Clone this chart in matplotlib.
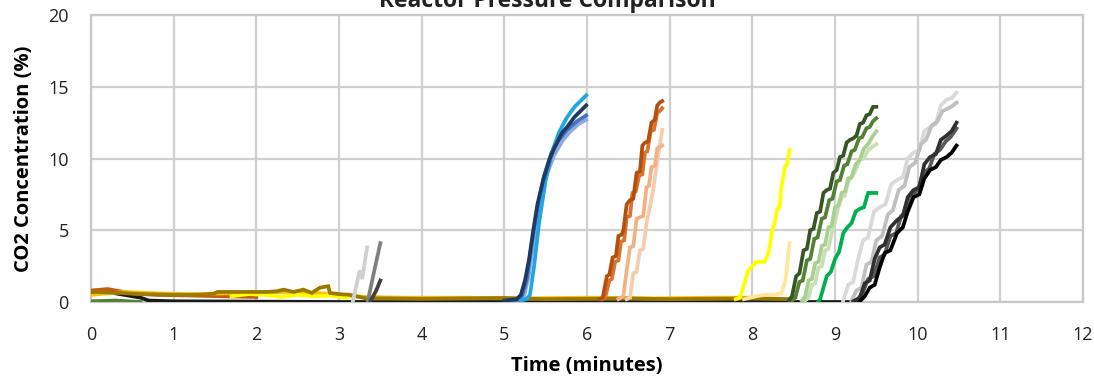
import matplotlib
matplotlib.use("Agg")
import matplotlib.pyplot as plt

plt.rcParams['font.family'] = ['Open Sans', 'DejaVu Sans']

# ---------------- data ----------------
title = "Reactor Pressure Comparison"
x_label = "Time (minutes)"
y_label = "CO2 Concentration (%)"
x_ticks = [0, 1, 2, 3, 4, 5, 6, 7, 8, 9, 10, 11, 12]
y_ticks = [0, 5, 10, 15, 20]

# baseline / early series
olive_t = [0.0, 0.3, 0.6, 1.0, 1.3, 1.48, 1.53, 1.8, 2.13, 2.25, 2.33, 2.45, 2.57, 2.67, 2.77, 2.87, 2.89, 3.0, 3.13, 3.33, 3.6, 4.0, 4.5, 5.0, 5.5, 6.0, 6.5, 7.0, 7.5, 8.0, 8.5]
olive_v = [0.7, 0.65, 0.55, 0.5, 0.5, 0.57, 0.7, 0.7, 0.7, 0.75, 0.86, 0.7, 0.86, 0.63, 1.0, 1.1, 0.63, 0.55, 0.5, 0.25, 0.25, 0.22, 0.25, 0.28, 0.2, 0.22, 0.25, 0.2, 0.22, 0.25, 0.2]
gold_t = [0.0, 0.4, 0.8, 1.2, 1.6, 2.0, 2.4, 2.8, 3.0, 3.3, 3.8, 4.5, 5.2, 6.0, 6.8, 7.5, 8.0]
gold_v = [0.5, 0.7, 0.6, 0.55, 0.6, 0.65, 0.7, 0.6, 0.5, 0.35, 0.3, 0.3, 0.25, 0.3, 0.25, 0.3, 0.3]
yellow_base_t = [1.7, 1.9, 2.1, 2.3, 2.5, 2.7, 2.9, 3.1]
yellow_base_v = [0.4, 0.55, 0.5, 0.35, 0.5, 0.4, 0.45, 0.3]
orange_base_t = [0.0, 0.2, 0.35, 0.5, 0.8, 1.2, 1.6, 2.0]
orange_base_v = [0.8, 0.9, 0.75, 0.6, 0.5, 0.45, 0.4, 0.35]
black_base_t = [0.0, 0.2, 0.4, 0.6, 0.7, 1.0, 3.0, 6.0, 9.0, 9.3]
black_base_v = [0.6, 0.7, 0.5, 0.3, 0.1, 0.05, 0.0, 0.0, 0.0, 0.0]
green_base_t = [0.0, 0.3, 0.6]
green_base_v = [0.05, 0.1, 0.0]

# short gray spikes around 3.2-3.5 min
spike1_t = [3.17, 3.25, 3.28, 3.34]
spike1_v = [0.1, 2.2, 1.6, 3.8]
spike2_t = [3.35, 3.42, 3.5]
spike2_v = [0.1, 2.0, 4.1]
spike3_t = [3.38, 3.45, 3.5]
spike3_v = [0.05, 0.8, 1.5]

# blue group
navy_t = [5.0, 5.15, 5.2, 5.25, 5.3, 5.35, 5.4, 5.47, 5.55, 5.61, 5.7, 5.76, 5.85, 5.92, 5.99]
navy_v = [0.1, 0.2, 0.5, 1.5, 3.0, 5.0, 6.8, 8.5, 10.0, 10.8, 11.8, 12.2, 12.9, 13.3, 13.7]
lblue_t = [5.2, 5.27, 5.31, 5.36, 5.42, 5.5, 5.58, 5.66, 5.75, 5.85, 5.99]
lblue_v = [0.1, 0.2, 0.5, 2.5, 5.5, 8.5, 10.5, 11.8, 12.8, 13.6, 14.4]
mblue_t = [5.1, 5.2, 5.27, 5.33, 5.4, 5.48, 5.57, 5.66, 5.76, 5.88, 5.99]
mblue_v = [0.1, 0.2, 1.5, 4.0, 6.5, 8.8, 10.4, 11.3, 12.0, 12.6, 13.0]
pblue_t = [5.15, 5.24, 5.3, 5.36, 5.43, 5.51, 5.6, 5.7, 5.8, 5.9, 5.99]
pblue_v = [0.1, 0.4, 2.0, 4.5, 6.8, 8.8, 10.2, 11.2, 11.9, 12.4, 12.7]

# orange group (stepped)
or1_t = [6.15, 6.19, 6.24, 6.27, 6.31, 6.35, 6.38, 6.42, 6.44, 6.48, 6.52, 6.56, 6.6, 6.64, 6.67, 6.7, 6.74, 6.78, 6.82, 6.85, 6.88, 6.91]
or1_v = [0.2, 0.3, 1.8, 1.9, 3.1, 3.2, 4.6, 4.7, 5.0, 6.8, 7.1, 7.2, 9.0, 9.1, 10.9, 11.1, 11.2, 12.5, 12.7, 13.7, 13.9, 14.0]
or2_t = [6.18, 6.22, 6.27, 6.3, 6.34, 6.38, 6.41, 6.45, 6.48, 6.52, 6.55, 6.59, 6.63, 6.67, 6.7, 6.73, 6.77, 6.81, 6.85, 6.88, 6.91]
or2_v = [0.2, 0.3, 1.5, 1.6, 2.8, 2.9, 4.2, 4.3, 5.9, 6.0, 7.6, 7.7, 8.8, 8.9, 10.4, 10.5, 11.9, 12.0, 13.2, 13.3, 13.5]
or3_t = [6.38, 6.44, 6.48, 6.52, 6.56, 6.6, 6.64, 6.68, 6.72, 6.75, 6.78, 6.82, 6.85, 6.88, 6.91]
or3_v = [0.2, 0.4, 2.2, 3.8, 3.9, 5.8, 5.9, 6.0, 8.0, 8.1, 9.4, 9.5, 10.7, 10.8, 10.9]
or4_t = [6.48, 6.52, 6.56, 6.6, 6.64, 6.68, 6.72, 6.76, 6.8, 6.84, 6.87, 6.91]
or4_v = [0.2, 0.3, 2.0, 2.1, 3.6, 3.7, 5.5, 6.6, 7.8, 9.4, 10.5, 12.0]

# yellow / tan
yel_t = [7.8, 7.85, 7.9, 7.95, 8.0, 8.05, 8.15, 8.2, 8.24, 8.27, 8.3, 8.33, 8.35, 8.4, 8.42, 8.45]
yel_v = [0.2, 0.3, 1.2, 2.2, 2.5, 2.8, 2.8, 3.5, 5.0, 5.5, 6.5, 6.6, 8.0, 9.5, 9.6, 10.6]
tan_t = [7.9, 8.05, 8.15, 8.25, 8.35, 8.4, 8.42, 8.45]
tan_v = [0.2, 0.4, 0.5, 0.5, 0.6, 1.5, 2.5, 4.1]

# green group
dg_t = [8.44, 8.48, 8.53, 8.57, 8.62, 8.66, 8.7, 8.74, 8.78, 8.82, 8.86, 8.9, 8.94, 8.98, 9.02, 9.06, 9.1, 9.14, 9.18, 9.22, 9.26, 9.3, 9.34, 9.38, 9.42, 9.46, 9.5]
dg_v = [0.1, 0.4, 1.8, 2.0, 3.6, 3.7, 5.0, 5.1, 6.2, 6.3, 7.6, 7.8, 7.9, 9.0, 9.2, 10.1, 10.2, 11.1, 11.3, 11.4, 11.6, 12.4, 12.5, 13.0, 13.1, 13.6, 13.6]
mg_t = [8.48, 8.52, 8.57, 8.61, 8.66, 8.7, 8.75, 8.79, 8.84, 8.88, 8.93, 8.97, 9.02, 9.06, 9.11, 9.15, 9.2, 9.24, 9.29, 9.33, 9.38, 9.42, 9.46, 9.5]
mg_v = [0.1, 0.3, 1.4, 1.5, 2.9, 3.0, 4.4, 4.5, 5.8, 5.9, 7.1, 7.2, 8.4, 8.5, 9.5, 9.6, 10.5, 10.6, 11.4, 11.5, 12.1, 12.2, 12.6, 12.8]
lg_t = [8.6, 8.64, 8.68, 8.72, 8.76, 8.8, 8.84, 8.88, 8.92, 8.96, 9.0, 9.04, 9.08, 9.12, 9.16, 9.2, 9.25, 9.3, 9.35, 9.4, 9.45, 9.5]
lg_v = [0.1, 0.4, 1.5, 1.6, 2.7, 2.8, 3.9, 4.0, 5.2, 5.3, 6.6, 6.7, 7.6, 7.7, 8.6, 8.7, 9.6, 9.9, 10.7, 11.0, 11.5, 11.9]
llg_t = [8.64, 8.68, 8.72, 8.76, 8.8, 8.84, 8.88, 8.92, 8.96, 9.0, 9.04, 9.08, 9.12, 9.16, 9.2, 9.25, 9.3, 9.35, 9.4, 9.45, 9.5]
llg_v = [0.1, 0.3, 1.2, 1.3, 2.4, 2.5, 3.6, 3.7, 4.8, 5.6, 6.6, 7.3, 7.4, 8.4, 8.7, 9.2, 9.9, 10.0, 10.6, 10.8, 11.0]
bg_t = [8.8, 8.82, 8.86, 8.9, 8.95, 9.0, 9.05, 9.1, 9.15, 9.2, 9.25, 9.3, 9.35, 9.4, 9.5]
bg_v = [0.05, 0.2, 1.0, 1.8, 2.1, 3.0, 3.5, 4.8, 5.2, 5.5, 6.3, 6.5, 6.6, 7.6, 7.6]

# gray / black group
gr1_t = [9.1, 9.16, 9.22, 9.28, 9.34, 9.4, 9.47, 9.54, 9.61, 9.68, 9.75, 9.82, 9.88, 9.95, 10.02, 10.08, 10.15, 10.22, 10.28, 10.35, 10.41, 10.47]
gr1_v = [0.1, 1.2, 1.4, 3.0, 4.3, 4.5, 6.3, 6.6, 6.8, 8.2, 8.5, 8.7, 10.0, 10.4, 10.6, 11.9, 12.2, 12.4, 13.7, 14.1, 14.2, 14.6]
gr2_t = [9.2, 9.26, 9.32, 9.38, 9.44, 9.5, 9.57, 9.64, 9.7, 9.77, 9.84, 9.9, 9.97, 10.04, 10.1, 10.17, 10.24, 10.3, 10.37, 10.43, 10.47]
gr2_v = [0.1, 0.8, 1.0, 2.6, 2.8, 4.3, 4.6, 6.1, 6.4, 7.8, 8.1, 9.4, 9.7, 11.0, 11.3, 12.3, 12.6, 13.3, 13.5, 13.7, 13.9]
dk1_t = [9.22, 9.3, 9.36, 9.42, 9.48, 9.54, 9.6, 9.67, 9.75, 9.82, 9.88, 9.95, 10.02, 10.08, 10.15, 10.22, 10.28, 10.35, 10.41, 10.47]
dk1_v = [0.05, 0.3, 1.3, 1.5, 3.0, 3.8, 4.0, 5.2, 5.7, 6.0, 7.3, 7.8, 8.0, 9.6, 10.1, 10.3, 11.3, 11.6, 11.9, 12.5]
dk2_t = [9.3, 9.36, 9.42, 9.48, 9.54, 9.6, 9.67, 9.75, 9.82, 9.88, 9.95, 10.02, 10.08, 10.15, 10.22, 10.28, 10.35, 10.41, 10.47]
dk2_v = [0.05, 0.4, 1.0, 1.2, 2.4, 3.4, 3.6, 4.8, 5.2, 6.3, 7.3, 7.5, 8.6, 9.2, 9.4, 9.9, 10.1, 10.4, 10.9]
dk3_t = [9.26, 9.33, 9.4, 9.47, 9.54, 9.6, 9.67, 9.74, 9.8, 9.87, 9.94, 10.0, 10.07, 10.14, 10.2, 10.27, 10.34, 10.4, 10.47]
dk3_v = [0.05, 0.6, 1.6, 1.8, 3.1, 3.3, 4.6, 4.8, 6.0, 6.3, 7.5, 7.8, 9.0, 9.3, 10.3, 10.6, 11.2, 11.5, 12.1]

series = [
    (black_base_t, black_base_v, "#1a1a1a"),
    (green_base_t, green_base_v, "#548235"),
    (orange_base_t, orange_base_v, "#c55a11"),
    (gold_t, gold_v, "#ffc000"),
    (yellow_base_t, yellow_base_v, "#ffff00"),
    (olive_t, olive_v, "#9c7a00"),
    (spike1_t, spike1_v, "#d0d0d0"),
    (spike2_t, spike2_v, "#7f7f7f"),
    (spike3_t, spike3_v, "#404040"),
    (pblue_t, pblue_v, "#8faadc"),
    (mblue_t, mblue_v, "#4472c4"),
    (lblue_t, lblue_v, "#1ea7e1"),
    (navy_t, navy_v, "#1f3864"),
    (or4_t, or4_v, "#f8cbad"),
    (or3_t, or3_v, "#f4b183"),
    (or2_t, or2_v, "#d9732f"),
    (or1_t, or1_v, "#b4500f"),
    (tan_t, tan_v, "#ffe699"),
    (yel_t, yel_v, "#ffff00"),
    (llg_t, llg_v, "#c5e0b4"),
    (lg_t, lg_v, "#a9d08e"),
    (mg_t, mg_v, "#548235"),
    (dg_t, dg_v, "#375623"),
    (bg_t, bg_v, "#00b050"),
    (gr1_t, gr1_v, "#d9d9d9"),
    (gr2_t, gr2_v, "#bfbfbf"),
    (dk3_t, dk3_v, "#595959"),
    (dk1_t, dk1_v, "#303030"),
    (dk2_t, dk2_v, "#000000"),
]

# ---------------- plot ----------------
fig = plt.figure(figsize=(10.94, 3.83), dpi=100)
ax = fig.add_axes([91 / 1094, 1 - 302 / 383, (1083 - 91) / 1094, (302 - 15) / 383])

for t, v, c in series:
    ax.plot(t, v, color=c, lw=2.7, solid_joinstyle='miter', zorder=3)

ax.set_xlim(0, 12)
ax.set_ylim(0, 20)
ax.set_xticks(x_ticks)
ax.set_yticks(y_ticks)
ax.grid(True, color="#d0d0d0", lw=1.6, zorder=0)
ax.set_axisbelow(True)
for s in ax.spines.values():
    s.set_color("#c8c8c8")
    s.set_linewidth(1.6)
ax.tick_params(length=0, labelsize=13, colors="#222222")
ax.tick_params(axis="x", pad=17)
ax.tick_params(axis="y", pad=16)
ax.set_xlabel(x_label, fontsize=14.5, fontweight="bold", labelpad=9)
ax.set_ylabel(y_label, fontsize=14.5, fontweight="bold", labelpad=10)
fig.text(0.5, 1 - 7 / 383, title, ha="center", va="baseline",
         fontsize=16.5, fontweight="bold", color="#222222")

fig.savefig("out.png", dpi=100)
